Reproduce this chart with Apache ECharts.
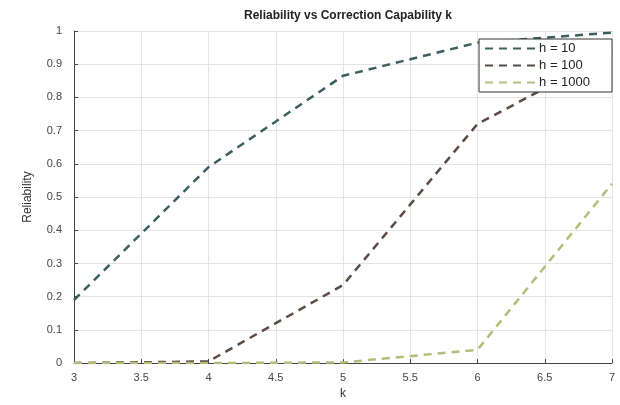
<!DOCTYPE html>
<html>
<head>
<meta charset="utf-8">
<script src="https://cdn.jsdelivr.net/npm/echarts@6/dist/echarts.min.js"></script>
<style>
  html, body { margin: 0; padding: 0; background: #fff; }
  #chart { width: 620px; height: 405px; }
</style>
</head>
<body>
<div id="chart"></div>
<script>
// k values (error correction capability)
var kValues = [3, 4, 5, 6, 7];
// reliability for each h
var h10 = [0.19, 0.59, 0.865, 0.965, 0.995];
var h100 = [0.0, 0.005, 0.235, 0.72, 0.935];
var h1000 = [0.0, 0.0, 0.002, 0.04, 0.54];
var seriesNames = ["h = 10", "h = 100", "h = 1000"];
var seriesColors = ["#3d5e60", "#5b4b45", "#b5bb78"];

function pairs(ys) {
  return kValues.map(function (k, i) { return [k, ys[i]]; });
}

var chart = echarts.init(document.getElementById("chart"));
var fontFam = "Liberation Sans, Arial, sans-serif";

chart.setOption({
  animation: false,
  backgroundColor: "#fff",
  title: {
    text: "Reliability vs Correction Capability k",
    left: 343,
    textAlign: "center",
    top: 5,
    textStyle: { fontFamily: fontFam, fontSize: 12, fontWeight: "bold", color: "#222" }
  },
  grid: { left: 74, right: 8, top: 31, bottom: 38 },
  legend: {
    orient: "vertical",
    right: 8,
    top: 39,
    itemWidth: 52,
    itemHeight: 12,
    itemGap: 4,
    padding: [3, 22, 3, 5],
    borderColor: "#333",
    borderWidth: 1,
    backgroundColor: "#fff",
    itemStyle: { opacity: 0 },
    textStyle: { fontFamily: fontFam, fontSize: 13, color: "#222", padding: [0, 0, 0, -3] },
    data: seriesNames
  },
  xAxis: {
    type: "value",
    min: 3,
    max: 7,
    interval: 0.5,
    name: "k",
    nameLocation: "middle",
    nameGap: 22,
    nameTextStyle: { fontFamily: fontFam, fontSize: 12, color: "#333" },
    axisLine: { lineStyle: { color: "#444" } },
    axisTick: { show: true, length: 4, inside: true, lineStyle: { color: "#444" } },
    axisLabel: { fontFamily: fontFam, fontSize: 11, color: "#444", margin: 9 },
    splitLine: { show: true, lineStyle: { color: "#e4e4e4" } }
  },
  yAxis: {
    type: "value",
    min: 0,
    max: 1,
    interval: 0.1,
    name: "Reliability",
    nameLocation: "middle",
    nameGap: 40,
    nameTextStyle: { fontFamily: fontFam, fontSize: 12, color: "#333" },
    axisLine: { show: true, lineStyle: { color: "#444" } },
    axisTick: { show: true, length: 4, inside: true, lineStyle: { color: "#444" } },
    axisLabel: {
      fontFamily: fontFam, fontSize: 11, color: "#444", margin: 12,
      formatter: function (v) { return String(Math.round(v * 10) / 10); }
    },
    splitLine: { show: true, lineStyle: { color: "#e4e4e4" } }
  },
  series: [h10, h100, h1000].map(function (ys, i) {
    return {
      name: seriesNames[i],
      type: "line",
      data: pairs(ys),
      symbol: "none",
      color: seriesColors[i],
      lineStyle: { width: 2.5, type: [8, 6], color: seriesColors[i] }
    };
  })
});
</script>
</body>
</html>
